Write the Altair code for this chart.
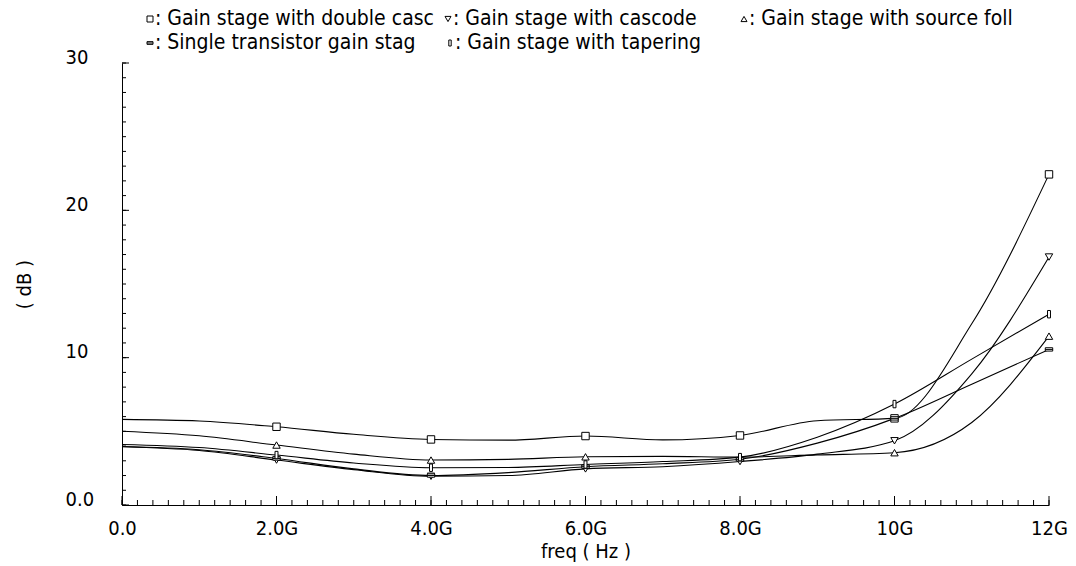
import altair as alt
import pandas as pd
import numpy as np

# ---- data ----
freq_g = [0, 1, 2, 3, 4, 5, 6, 7, 8, 9, 10, 11, 12]
series_names = [
    "Gain stage with double casc",
    "Gain stage with cascode",
    "Gain stage with source foll",
    "Single transistor gain stag",
    "Gain stage with tapering",
]
double_casc = [5.81, 5.70, 5.31, 4.80, 4.45, 4.40, 4.68, 4.42, 4.72, 5.72, 5.88, 12.3, 22.44]
cascode = [3.95, 3.70, 3.05, 2.40, 1.95, 2.00, 2.45, 2.60, 2.95, 3.45, 4.36, 8.9, 16.83]
source_foll = [5.01, 4.70, 4.07, 3.45, 3.05, 3.10, 3.27, 3.30, 3.25, 3.40, 3.55, 5.6, 11.46]
single = [3.97, 3.75, 3.16, 2.45, 2.00, 2.20, 2.60, 2.80, 3.10, 4.20, 5.88, 8.2, 10.56]
tapering = [4.11, 3.90, 3.39, 2.85, 2.53, 2.55, 2.75, 2.95, 3.25, 4.60, 6.85, 9.9, 12.95]
series_values = [double_casc, cascode, source_foll, single, tapering]

x_tick_labels = [0, 2, 4, 6, 8, 10, 12]
y_tick_labels = [0, 10, 20, 30]

# ---- styling ----
FONT = "DejaVu Sans Condensed, DejaVu Sans, sans-serif"
W, H = 927, 442
shapes = [
    "square",
    "triangle-down",
    "triangle-up",
    "M-1,-0.45L1,-0.45L1,0.45L-1,0.45Z M-1,0L1,0",
    "M-0.4,-1L0.4,-1L0.4,1L-0.4,1Z",
]

rows = []
for name, vals in zip(series_names, series_values):
    for f, v in zip(freq_g, vals):
        rows.append({"series": name, "f": f, "db": v})
df = pd.DataFrame(rows)

xscale = alt.Scale(domain=[0, 12], nice=False, zero=True)
yscale = alt.Scale(domain=[0, 30], nice=False, zero=True)
shape_scale = alt.Scale(domain=series_names, range=shapes)

x_axis = alt.Axis(
    values=x_tick_labels, ticks=False, tickSize=0, grid=False, domain=True,
    domainColor="#000", domainWidth=1, labelFlush=False, labelOverlap=False,
    labelExpr="datum.value == 0 ? '0.0' : (datum.value < 10 ? format(datum.value, '.1f') + 'G' : datum.value + 'G')",
    labelFont=FONT, labelFontSize=20, labelColor="#000", labelPadding=13, labelBaseline="top",
    title="freq ( Hz )", titleFont=FONT, titleFontSize=20, titleFontWeight="normal", titleColor="#000",
    titleY=36, titleBaseline="top",
)
y_axis = alt.Axis(
    values=y_tick_labels, ticks=False, tickSize=0, grid=False, domain=True,
    domainColor="#000", domainWidth=1, labelFlush=False, labelOverlap=False,
    labelExpr="datum.value == 0 ? '0.0' : datum.value + ''",
    labelFont=FONT, labelFontSize=20, labelColor="#000", labelAlign="left", labelPadding=57,
    labelBaseline="alphabetic",
    title="( dB )", titleFont=FONT, titleFontSize=20, titleFontWeight="normal", titleColor="#000",
    titleAngle=270, titleX=-98, titleY=221, titleAlign="center", titleBaseline="middle",
)

base = alt.Chart(df)
lines = base.mark_line(interpolate="monotone", color="#000", strokeWidth=1.1).encode(
    x=alt.X("f:Q", scale=xscale, axis=x_axis),
    y=alt.Y("db:Q", scale=yscale, axis=y_axis),
    detail="series:N",
)
markers = base.transform_filter("datum.f >= 2 && datum.f % 2 == 0").mark_point(
    filled=False, color="#000", fill="white", fillOpacity=1, strokeWidth=1, size=55, opacity=1
).encode(
    x=alt.X("f:Q", scale=xscale),
    y=alt.Y("db:Q", scale=yscale),
    shape=alt.Shape("series:N", scale=shape_scale, legend=None),
)

# inward ticks
xt_minor = pd.DataFrame({"t": np.round(np.arange(0, 12.01, 0.2), 2)})
xt_major = pd.DataFrame({"t": x_tick_labels})
yt_minor = pd.DataFrame({"t": np.arange(0, 31, 1)})
yt_major = pd.DataFrame({"t": y_tick_labels})
tick_style = dict(color="#000", strokeWidth=1)
xminor = alt.Chart(xt_minor).mark_rule(**tick_style).encode(
    x=alt.X("t:Q", scale=xscale), y=alt.value(H), y2=alt.value(H - 5))
xmajor = alt.Chart(xt_major).mark_rule(**tick_style).encode(
    x=alt.X("t:Q", scale=xscale), y=alt.value(H), y2=alt.value(H - 9))
yminor = alt.Chart(yt_minor).mark_rule(**tick_style).encode(
    y=alt.Y("t:Q", scale=yscale), x=alt.value(0), x2=alt.value(4))
ymajor = alt.Chart(yt_major).mark_rule(**tick_style).encode(
    y=alt.Y("t:Q", scale=yscale), x=alt.value(0), x2=alt.value(7))

# legend at top
leg_pos = [(28, -44), (326, -44), (622, -44), (28, -20), (328, -20)]
leg_layers = []
for name, shp, (lx, ly) in zip(series_names, shapes, leg_pos):
    ldf = pd.DataFrame({"label": [": " + name]})
    sym = alt.Chart(ldf).mark_point(
        shape=shp, filled=False, color="#000", fill="white", fillOpacity=1, size=36, strokeWidth=1
    ).encode(x=alt.value(lx), y=alt.value(ly))
    txt = alt.Chart(ldf).mark_text(
        align="left", baseline="middle", font=FONT, fontSize=21, color="#000"
    ).encode(text="label:N", x=alt.value(lx + 5), y=alt.value(ly))
    leg_layers += [sym, txt]

chart = alt.layer(
    xminor, xmajor, yminor, ymajor, lines, markers, *leg_layers
).properties(
    width=W, height=H,
    autosize=alt.AutoSizeParams(type="none"),
    padding={"left": 122, "top": 63, "right": 27, "bottom": 61},
    background="white",
).configure_view(stroke=None)

chart.save("out.html", embed_options={"renderer": "svg", "actions": False})
